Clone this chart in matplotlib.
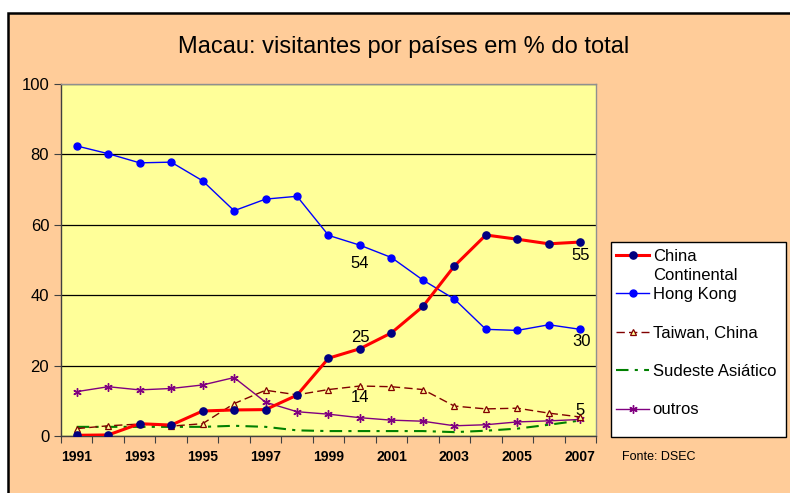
import matplotlib
matplotlib.use("Agg")
import matplotlib.pyplot as plt
from matplotlib.patches import Rectangle
from matplotlib.lines import Line2D

plt.rcParams['font.family'] = ['Liberation Sans', 'DejaVu Sans']

years = list(range(1991, 2008))
china = [0.2, 0.3, 3.5, 3.1, 7.1, 7.4, 7.5, 11.6, 22.1, 24.8, 29.3, 36.8, 48.3, 57.1, 55.9, 54.6, 55.1]
hong_kong = [82.4, 80.2, 77.6, 77.8, 72.5, 64.0, 67.3, 68.1, 57.0, 54.2, 50.7, 44.3, 38.9, 30.3, 30.0, 31.6, 30.3]
taiwan = [2.1, 2.9, 3.4, 2.8, 3.5, 9.2, 13.0, 11.7, 13.2, 14.2, 14.0, 13.2, 8.5, 7.7, 7.9, 6.5, 5.4]
sudeste = [2.6, 2.6, 2.6, 2.6, 2.6, 2.9, 2.6, 1.6, 1.4, 1.4, 1.4, 1.4, 1.1, 1.5, 2.1, 3.2, 4.4]
outros = [12.6, 14.0, 13.1, 13.5, 14.5, 16.6, 9.6, 6.9, 6.2, 5.2, 4.5, 4.2, 2.9, 3.2, 4.0, 4.3, 4.7]
year_labels = [str(y) for y in range(1991, 2008, 2)]
y_ticks = [0, 20, 40, 60, 80, 100]

W, H = 790, 493
fig = plt.figure(figsize=(W / 100, H / 100), dpi=100)
fig.patch.set_facecolor('white')

# chart area background with border
bg = Rectangle((7.5 / W, -0.05), 1.1, (H - 13) / H + 0.05, transform=fig.transFigure,
               facecolor='#FFCC99', edgecolor='black', linewidth=1.8, zorder=-10)
fig.patches.append(bg)

ax = fig.add_axes([61 / W, (H - 436) / H, (596 - 61) / W, (436 - 84) / H])
ax.set_facecolor('#FFFF99')

l_sud, = ax.plot(years, sudeste, color='#008000', lw=1.5, linestyle=(0, (6, 3, 1.5, 3)),
                 label='Sudeste Asiático', zorder=3)
l_out, = ax.plot(years, outros, color='#800080', lw=1.0, marker=(6, 2, 0), markersize=6,
                 markeredgecolor='#800080', markeredgewidth=1.0, label='outros', zorder=4)
l_tw, = ax.plot(years, taiwan, color='#800000', lw=1.0, linestyle=(0, (6, 3)), marker='^',
                markersize=5, markerfacecolor='#FFFF99', markeredgecolor='#800000',
                markeredgewidth=0.9, label='Taiwan, China', zorder=5)
l_hk, = ax.plot(years, hong_kong, color='#0000FF', lw=1.0, marker='o', markersize=5,
                markerfacecolor='#0000FF', markeredgecolor='#0000FF', label='Hong Kong', zorder=6)
l_cn, = ax.plot(years, china, color='#FF0000', lw=2.2, marker='o', markersize=5.2,
                markerfacecolor='#000080', markeredgecolor='#000080',
                label='China Continental', zorder=7)

ax.set_xlim(1990.5, 2007.5)
ax.set_ylim(0, 100)
ax.set_yticks(y_ticks)
ax.set_yticklabels([str(v) for v in y_ticks], fontsize=12)
ax.yaxis.grid(True, color='black', lw=0.9)
ax.set_axisbelow(True)

# category boundary ticks
ax.set_xticks([y - 0.5 for y in years] + [years[-1] + 0.5])
ax.set_xticklabels([])
ax.tick_params(axis='x', direction='out', length=5, color='#404040')
ax.tick_params(axis='y', direction='out', length=5, color='#404040')
ax.set_xticks(list(range(1991, 2008, 2)), minor=True)
ax.set_xticklabels(year_labels, minor=True, fontsize=10, fontweight='bold')
ax.tick_params(axis='x', which='minor', length=0, pad=10)

for side in ['top', 'right']:
    ax.spines[side].set_color('#909090')
    ax.spines[side].set_linewidth(1.0)
for side in ['left', 'bottom']:
    ax.spines[side].set_color('#404040')
    ax.spines[side].set_linewidth(1.0)

# data labels
i2000 = years.index(2000)
i2007 = years.index(2007)
ax.annotate(f"{hong_kong[i2000]:.0f}", (years[i2000], hong_kong[i2000]), xytext=(0, -13),
            textcoords='offset points', ha='center', va='center', fontsize=12)
ax.annotate(f"{china[i2000]:.0f}", (years[i2000], china[i2000]), xytext=(0, 8),
            textcoords='offset points', ha='center', va='center', fontsize=12)
ax.annotate(f"{taiwan[i2000]:.0f}", (years[i2000], taiwan[i2000]), xytext=(0, -8),
            textcoords='offset points', ha='center', va='center', fontsize=12)
ax.annotate(f"{china[i2007]:.0f}", (years[i2007], china[i2007]), xytext=(0, -10),
            textcoords='offset points', ha='center', va='center', fontsize=12)
ax.annotate(f"{hong_kong[i2007]:.0f}", (years[i2007], hong_kong[i2007]), xytext=(1, -9),
            textcoords='offset points', ha='center', va='center', fontsize=12)
ax.annotate(f"{taiwan[i2007]:.0f}", (years[i2007], taiwan[i2007]), xytext=(0, 5),
            textcoords='offset points', ha='center', va='center', fontsize=12)

fig.text(404 / W, (H - 47) / H, 'Macau: visitantes por países em % do total',
         ha='center', va='center', fontsize=17)
fig.text(622 / W, (H - 457) / H, 'Fonte: DSEC', ha='left', va='center', fontsize=9)

# legend box
box = Rectangle((611 / W, (H - 437) / H), (786 - 611) / W, (437 - 242) / H,
                transform=fig.transFigure, facecolor='white', edgecolor='black',
                linewidth=1.0, zorder=5)
fig.patches.append(box)

blank = Line2D([], [], linestyle='none')
common = dict(loc='upper left', borderaxespad=0, fontsize=12, handlelength=2.0,
              handletextpad=0.2, borderpad=0, frameon=False)
legA = fig.legend([l_cn, blank, l_hk], ['China', 'Continental', 'Hong Kong'],
                  bbox_to_anchor=(616 / W, (H - 249.3) / H), labelspacing=0.23, **common)
legB = fig.legend([l_tw, l_sud, l_out], ['Taiwan, China', 'Sudeste Asiático', 'outros'],
                  bbox_to_anchor=(616 / W, (H - 325.7) / H), labelspacing=1.4, **common)
legA.set_zorder(6)
legB.set_zorder(6)

fig.savefig('out.png', dpi=100, facecolor=fig.get_facecolor())
